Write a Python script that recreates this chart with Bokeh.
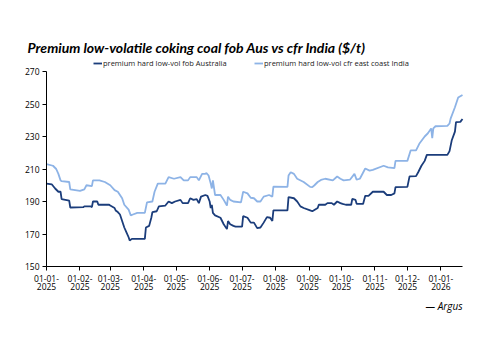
import pandas as pd
from bokeh.plotting import figure
from bokeh.models import Range1d, FixedTicker, Legend, LegendItem, Label
from bokeh.embed import file_html
from bokeh.resources import INLINE

# ---------------- data ----------------
aus_dates = ["2025-01-01","2025-01-06","2025-01-09","2025-01-12","2025-01-14","2025-01-15","2025-01-22","2025-01-23",
             "2025-02-04","2025-02-05","2025-02-11","2025-02-12","2025-02-13","2025-02-17","2025-02-18","2025-02-28",
             "2025-03-01","2025-03-05","2025-03-06","2025-03-08","2025-03-10","2025-03-12","2025-03-14","2025-03-16",
             "2025-03-18","2025-03-19","2025-03-21","2025-04-02","2025-04-03","2025-04-06","2025-04-08","2025-04-09",
             "2025-04-13","2025-04-15","2025-04-21","2025-04-24","2025-04-27","2025-04-30","2025-05-05","2025-05-07",
             "2025-05-12","2025-05-14","2025-05-17","2025-05-20","2025-05-22","2025-05-24","2025-05-28","2025-05-30",
             "2025-06-01","2025-06-02","2025-06-03","2025-06-04","2025-06-06","2025-06-11","2025-06-14","2025-06-17",
             "2025-06-18","2025-06-20","2025-06-23","2025-06-25","2025-07-01","2025-07-02","2025-07-06","2025-07-09",
             "2025-07-12","2025-07-15","2025-07-18","2025-07-21","2025-07-24","2025-07-27","2025-07-29","2025-07-30",
             "2025-08-12","2025-08-13","2025-08-18","2025-08-21","2025-08-24","2025-08-27","2025-09-02","2025-09-04",
             "2025-09-09","2025-09-10","2025-09-16","2025-09-18","2025-09-22","2025-09-24","2025-09-27","2025-09-30",
             "2025-10-02","2025-10-05","2025-10-10","2025-10-11","2025-10-14","2025-10-15","2025-10-21","2025-10-23",
             "2025-10-26","2025-10-30","2025-11-09","2025-11-12","2025-11-16","2025-11-19","2025-11-20","2025-12-01",
             "2025-12-03","2025-12-09","2025-12-11","2025-12-14","2025-12-17","2025-12-19","2026-01-07","2026-01-09",
             "2026-01-11","2026-01-14","2026-01-15","2026-01-19","2026-01-21"]
aus_fob = [201, 200.5, 198, 196, 196, 191.5, 190.5, 186.3,
           186.5, 187, 187, 186.5, 190, 190, 188, 188,
           187.5, 186, 184.5, 183.5, 182, 178, 174, 171,
           168, 166, 167, 167, 174, 175, 180, 183.4,
           184, 187, 187.5, 190, 189, 190, 191, 189,
           189, 192, 191, 191.5, 189, 193, 194, 193.5,
           190, 186, 188, 183, 181.5, 180, 176, 173,
           178, 176, 175, 174.5, 174.5, 181, 180, 177,
           177, 173.6, 174, 177, 180.4, 180, 178, 184.5,
           184.5, 192.7, 192, 190, 187, 186, 184.5, 184,
           186, 188, 188, 189, 189, 188, 190, 189,
           188.5, 188, 188, 191.6, 191, 188.6, 188.5, 193.5,
           193.5, 196, 196, 194, 194, 195, 198.8, 199,
           205.5, 205.6, 208, 212, 215, 218.7, 218.7, 221,
           227.5, 233, 238.8, 239, 240.8]

ind_dates = ["2025-01-01","2025-01-07","2025-01-10","2025-01-12","2025-01-14","2025-01-15","2025-01-22","2025-01-23",
             "2025-02-01","2025-02-05","2025-02-07","2025-02-12","2025-02-13","2025-02-19","2025-02-24","2025-03-01",
             "2025-03-05","2025-03-08","2025-03-12","2025-03-14","2025-03-18","2025-03-20","2025-03-22","2025-03-26",
             "2025-04-02","2025-04-04","2025-04-09","2025-04-11","2025-04-14","2025-04-21","2025-04-24","2025-04-29",
             "2025-05-05","2025-05-08","2025-05-12","2025-05-14","2025-05-20","2025-05-22","2025-05-25","2025-05-28",
             "2025-05-29","2025-05-31","2025-06-02","2025-06-03","2025-06-04","2025-06-06","2025-06-11","2025-06-14",
             "2025-06-17","2025-06-18","2025-06-20","2025-06-23","2025-06-30","2025-07-02","2025-07-06","2025-07-09",
             "2025-07-12","2025-07-15","2025-07-18","2025-07-21","2025-07-26","2025-07-29","2025-07-30","2025-08-12",
             "2025-08-13","2025-08-15","2025-08-18","2025-08-21","2025-08-27","2025-09-02","2025-09-04","2025-09-06",
             "2025-09-09","2025-09-12","2025-09-16","2025-09-23","2025-09-27","2025-09-30","2025-10-03","2025-10-09",
             "2025-10-13","2025-10-15","2025-10-18","2025-10-23","2025-10-27","2025-10-30","2025-11-09","2025-11-13",
             "2025-11-19","2025-11-20","2025-12-01","2025-12-04","2025-12-09","2025-12-12","2025-12-17","2025-12-20",
             "2025-12-23","2025-12-24","2025-12-25","2025-12-27","2026-01-07","2026-01-09","2026-01-10","2026-01-14",
             "2026-01-17","2026-01-21"]
ind_cfr = [213, 212, 210, 207, 203, 202.5, 202, 197.4,
           196.5, 197.5, 200, 199.5, 203, 203, 202, 200,
           197, 196, 192, 188, 185, 181.5, 182, 183,
           183, 189.5, 190, 196, 201, 201, 205, 204,
           205, 203, 203, 205, 205, 203, 207, 207,
           207.5, 206, 201, 198, 203, 194, 194, 191,
           187.5, 193, 191, 190, 189.5, 196, 195, 192.3,
           192, 190, 190, 193, 194, 193, 199.2, 199,
           206, 208, 207, 204, 202, 199, 198.8, 200,
           202, 203.3, 204, 203, 205.4, 204, 203, 203.5,
           207, 203.5, 204, 210.3, 209, 209.5, 212, 211,
           210.5, 215, 215, 221.4, 221.5, 225.5, 230, 232,
           235, 229, 235, 236.3, 236.5, 238, 241, 248,
           254, 255.6]

tick_dates = ["2025-01-01","2025-02-01","2025-03-01","2025-04-01","2025-05-01","2025-06-01","2025-07-01",
              "2025-08-01","2025-09-01","2025-10-01","2025-11-01","2025-12-01","2026-01-01"]
tick_labels = ["01-01-\n2025","01-02-\n2025","01-03-\n2025","01-04-\n2025","01-05-\n2025","01-06-\n2025","01-07-\n2025",
               "01-08-\n2025","01-09-\n2025","01-10-\n2025","01-11-\n2025","01-12-\n2025","01-01-\n2026"]
y_ticks = [150, 170, 190, 210, 230, 250, 270]
y_lo, y_hi = 150, 270
x_lo, x_hi = "2025-01-01", "2026-01-21"

assert len(aus_dates) == len(aus_fob)
assert len(ind_dates) == len(ind_cfr)

DARK = "#1b3d7b"
LIGHT = "#8db3e6"
FONT = "Open Sans"

# ---------------- layout (pixels) ----------------
W, H = 500, 354
AX_L, AX_R, AX_T, AX_B = 46, 462, 71, 266   # where the axes box sits on the canvas

def ms(s):
    return pd.Timestamp(s).value / 1e6

x0, x1 = ms(x_lo), ms(x_hi)
px_x = (x1 - x0) / (AX_R - AX_L)
px_y = (y_hi - y_lo) / (AX_B - AX_T)
# the frame spans the whole canvas; axes are pinned inside it
xr = Range1d(x0 - AX_L * px_x, x1 + (W - AX_R) * px_x)
yr = Range1d(y_lo - (H - AX_B) * px_y, y_hi + AX_T * px_y)

p = figure(width=W, height=H, x_axis_type="datetime", x_range=xr, y_range=yr,
           output_backend="svg", toolbar_location=None,
           min_border=0, min_border_left=0, min_border_right=0, min_border_top=0, min_border_bottom=0)
p.outline_line_color = None
p.xgrid.grid_line_color = None
p.ygrid.grid_line_color = None
p.background_fill_color = "white"
p.border_fill_color = "white"

r1 = p.line([pd.Timestamp(d) for d in aus_dates], aus_fob, line_color=DARK, line_width=1.8)
r2 = p.line([pd.Timestamp(d) for d in ind_dates], ind_cfr, line_color=LIGHT, line_width=1.8)

# axes
xt = [ms(d) for d in tick_dates]
p.xaxis.ticker = FixedTicker(ticks=xt)
p.xaxis.major_label_overrides = {t: l for t, l in zip(xt, tick_labels)}
p.xaxis.fixed_location = y_lo
p.xaxis.bounds = (x0, x1)
p.yaxis.ticker = FixedTicker(ticks=y_ticks)
p.yaxis.fixed_location = x0
p.yaxis.bounds = (y_lo, y_hi)
for ax in (p.xaxis[0], p.yaxis[0]):
    ax.axis_line_color = "black"
    ax.axis_line_width = 1
    ax.major_tick_line_color = "black"
    ax.major_tick_in = 0
    ax.major_tick_out = 4
    ax.minor_tick_line_color = None
    ax.major_label_text_font = FONT
    ax.major_label_text_font_size = "8.5px"
    ax.major_label_text_color = "black"
    ax.major_label_standoff = 3
p.xaxis.major_label_text_line_height = 0.75
p.xaxis.major_label_standoff = 2

# legends (frame == canvas, y measured from bottom)
lg1 = Legend(items=[LegendItem(label="premium hard low-vol fob Australia", renderers=[r1])],
             location=(93, H - 68))
lg2 = Legend(items=[LegendItem(label="premium hard low-vol cfr east coast India", renderers=[r2])],
             location=(254, H - 68))
for lg in (lg1, lg2):
    lg.border_line_color = None
    lg.background_fill_alpha = 0
    lg.padding = 0
    lg.margin = 0
    lg.glyph_width = 9
    lg.glyph_height = 8
    lg.label_standoff = 1
    lg.label_text_font = FONT
    lg.label_text_font_size = "7.5px"
    lg.label_height = 8
    lg.label_text_color = "#222222"
    p.add_layout(lg, "center")

# title
p.add_layout(Label(x=27, y=H - 47, x_units="screen", y_units="screen",
                   text="Premium low-volatile coking coal fob Aus vs cfr India ($/t)",
                   text_font="Lato", text_font_style="bold italic", text_font_size="14px",
                   text_color="black", text_baseline="alphabetic"))
# source
p.add_layout(Label(x=AX_R, y=H - 305, x_units="screen", y_units="screen",
                   text="— Argus", text_font=FONT, text_font_style="italic", text_font_size="10px",
                   text_color="black", text_align="right", text_baseline="middle"))

open("out.html", "w").write(file_html(p, INLINE))
